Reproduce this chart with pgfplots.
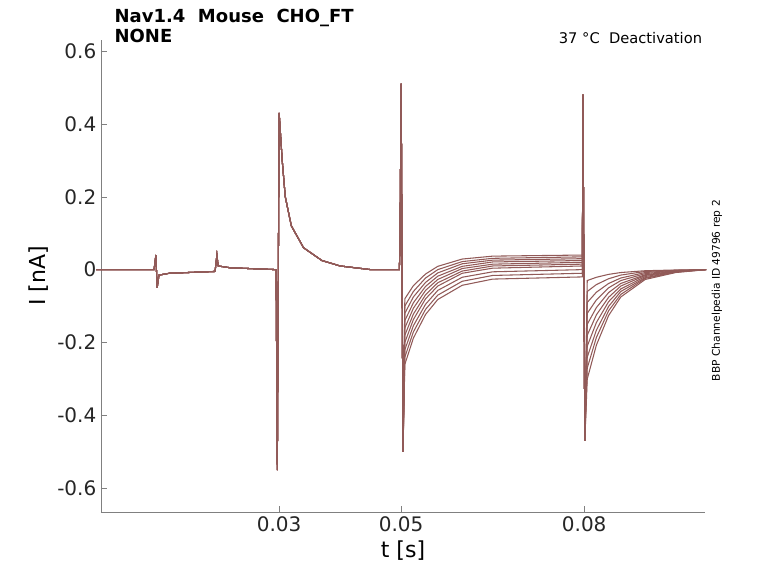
\documentclass[border=0pt]{standalone}
\usepackage{pgfplots}
\pgfplotsset{compat=1.18}
\usepackage{fontspec}
\setmainfont{DejaVu Sans}
\definecolor{tr}{RGB}{145,90,88}
\newcommand\tr[3]{\addplot[tr,line width=0.8pt] coordinates {(0,0)(0.0095,0)(0.0098,0.04)(0.0100,-0.05)(0.0103,-0.015)(0.012,-0.01)(0.0195,-0.005)(0.0198,0.04)(0.020,0.01)(0.022,0.005)(0.0295,0)(0.0297,-0.55)(0.0300,0.43)(0.0305,0.3)(0.031,0.2)(0.032,0.12)(0.034,0.06)(0.037,0.025)(0.040,0.01)(0.045,0)(0.0497,0)(0.0498,0.06)(0.0500,0.51)(0.0503,-0.5) #2 (0.0797,#1)(0.0798,0.48)(0.0801,-0.47) #3 (0.1,0)};}
\begin{document}
\begin{tikzpicture}
\useasboundingbox (-75.75pt,-53.25pt) rectangle (507.75pt,384pt);
\begin{axis}[at={(0,0)},anchor=south west,scale only axis,width=453pt,height=354pt,
 xmin=0.0008,xmax=0.0998,ymin=-0.665,ymax=0.63,
 axis x line=bottom, axis y line=left, axis line style={gray,-},
 xtick={0.03,0.05,0.08}, ytick={-0.6,-0.4,-0.2,0,0.2,0.4,0.6},
 scaled x ticks=false,
 xticklabel style={/pgf/number format/.cd,fixed,precision=2},
 /pgf/number format/assume math mode=true,
 ticklabel style={font=\fontsize{15}{18}\selectfont, text=black!85},
 tick style={gray}, tick align=inside,
 xlabel={t [s]}, ylabel={I [nA]},
 label style={font=\fontsize{16.5}{20}\selectfont},
 clip=false]
\tr{0.04}{(0.0506,-0.08)(0.052,-0.044)(0.054,-0.012)(0.056,0.009)(0.060,0.029)(0.065,0.037)}{(0.0805,-0.03)(0.082,-0.021)(0.084,-0.013)(0.086,-0.008)(0.090,-0.003)(0.095,-0.001)}
\tr{0.035}{(0.0506,-0.1)(0.052,-0.06)(0.054,-0.023)(0.056,0)(0.060,0.022)(0.065,0.031)}{(0.0805,-0.06)(0.082,-0.041)(0.084,-0.025)(0.086,-0.015)(0.090,-0.005)(0.095,-0.002)}
\tr{0.03}{(0.0506,-0.12)(0.052,-0.075)(0.054,-0.035)(0.056,-0.009)(0.060,0.016)(0.065,0.026)}{(0.0805,-0.09)(0.082,-0.062)(0.084,-0.038)(0.086,-0.023)(0.090,-0.008)(0.095,-0.002)}
\tr{0.025}{(0.0506,-0.14)(0.052,-0.091)(0.054,-0.046)(0.056,-0.018)(0.060,0.009)(0.065,0.021)}{(0.0805,-0.12)(0.082,-0.083)(0.084,-0.05)(0.086,-0.03)(0.090,-0.011)(0.095,-0.003)}
\tr{0.02}{(0.0506,-0.16)(0.052,-0.106)(0.054,-0.057)(0.056,-0.027)(0.060,0.003)(0.065,0.015)}{(0.0805,-0.15)(0.082,-0.104)(0.084,-0.063)(0.086,-0.038)(0.090,-0.014)(0.095,-0.004)}
\tr{0.015}{(0.0506,-0.18)(0.052,-0.122)(0.054,-0.069)(0.056,-0.036)(0.060,-0.004)(0.065,0.010)}{(0.0805,-0.18)(0.082,-0.124)(0.084,-0.076)(0.086,-0.045)(0.090,-0.016)(0.095,-0.005)}
\tr{0.01}{(0.0506,-0.2)(0.052,-0.137)(0.054,-0.08)(0.056,-0.045)(0.060,-0.01)(0.065,0.004)}{(0.0805,-0.21)(0.082,-0.145)(0.084,-0.088)(0.086,-0.053)(0.090,-0.019)(0.095,-0.005)}
\tr{0.0}{(0.0506,-0.22)(0.052,-0.154)(0.054,-0.095)(0.056,-0.057)(0.060,-0.021)(0.065,-0.006)}{(0.0805,-0.24)(0.082,-0.166)(0.084,-0.101)(0.086,-0.06)(0.090,-0.022)(0.095,-0.006)}
\tr{-0.01}{(0.0506,-0.24)(0.052,-0.171)(0.054,-0.109)(0.056,-0.07)(0.060,-0.032)(0.065,-0.016)}{(0.0805,-0.27)(0.082,-0.186)(0.084,-0.113)(0.086,-0.068)(0.090,-0.024)(0.095,-0.007)}
\tr{-0.02}{(0.0506,-0.26)(0.052,-0.188)(0.054,-0.123)(0.056,-0.082)(0.060,-0.043)(0.065,-0.026)}{(0.0805,-0.3)(0.082,-0.207)(0.084,-0.126)(0.086,-0.075)(0.090,-0.027)(0.095,-0.008)}
\end{axis}
\node[anchor=north west,align=left,font=\bfseries\fontsize{13.5}{15}\selectfont,inner sep=0pt] at (10pt,377pt) {Nav1.4\ \ Mouse\ \ CHO\_FT\\NONE};
\node[anchor=north east,font=\fontsize{11}{13}\selectfont,inner sep=0pt] at (451pt,360pt) {37 °C\ \ Deactivation};
\node[rotate=90,font=\fontsize{8}{10}\selectfont,inner sep=0pt] at (462pt,166pt) {BBP Channelpedia ID 49796 rep 2};
\end{tikzpicture}
\end{document}
